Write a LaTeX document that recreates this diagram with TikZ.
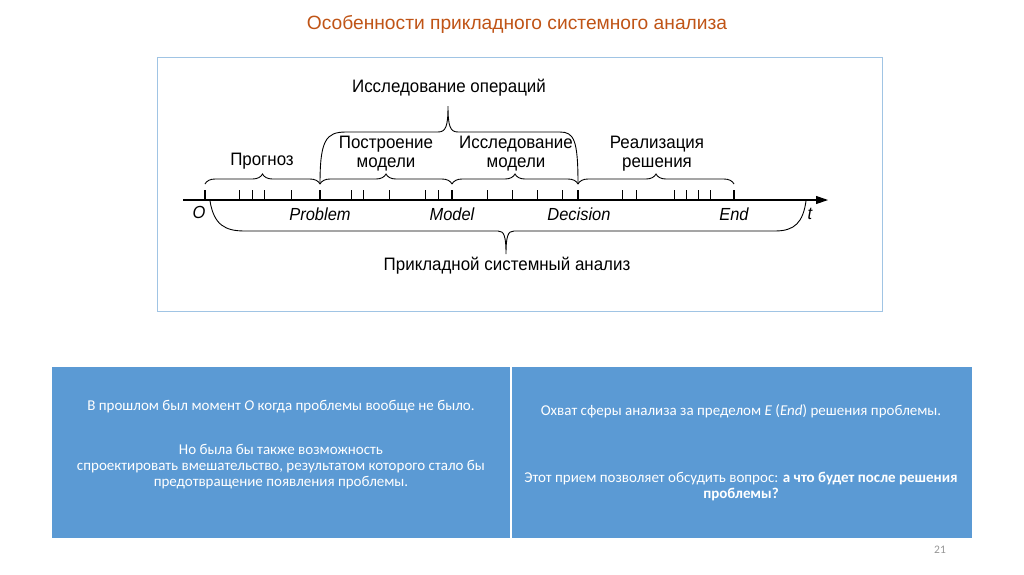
\documentclass[tikz,border=0pt]{standalone}
\usepackage{fontspec}
\usepackage{tikz}
\usetikzlibrary{arrows.meta,positioning,decorations.pathreplacing,calc}
\setmainfont{Liberation Sans}
\newfontfamily\narrowfont[FakeStretch=0.94]{Liberation Sans}
\newfontfamily\slidefont{Carlito}
\definecolor{titlecol}{RGB}{192,84,22}
\definecolor{frame}{RGB}{160,196,228}
\definecolor{cellblue}{RGB}{91,154,212}
\definecolor{pagegray}{RGB}{150,150,150}

\tikzset{
  lbl/.style={font=\narrowfont\fontsize{18}{19}\selectfont, align=center, inner sep=0pt},
  ptlbl/.style={font=\narrowfont\itshape\fontsize{17.5}{19}\selectfont, inner sep=0pt},
  major/.style={line width=2pt},
  minor/.style={line width=0.9pt},
  smallbrace/.style={decorate, decoration={brace, amplitude=10pt}, line width=0.9pt},
  bigbrace/.style={line width=0.9pt},
  celltxt/.style={font=\slidefont\fontsize{15}{16}\selectfont, text=white, align=center, inner sep=0pt}
}

\begin{document}
\begin{tikzpicture}[x=1pt, y=-1pt]
  \useasboundingbox (0,0) rectangle (1024,574);
  \fill[white] (0,0) rectangle (1024,574);

  % title
  \node[font=\fontsize{19.2}{22}\selectfont, text=titlecol] (title) at (517,24) {Особенности прикладного системного анализа};

  % diagram frame
  \draw[frame, line width=1pt] (157,57) rectangle (882,311);

  % time axis
  \coordinate (start) at (183,200);
  \coordinate (tip) at (828,200);
  \draw[line width=1.1pt, -{Triangle[length=12pt,width=8pt]}] (start) -- (tip);

  \coordinate (O) at (205,200);
  \coordinate (P) at (320,200);
  \coordinate (M) at (452,200);
  \coordinate (D) at (578,200);
  \coordinate (E) at (734,200);

  \foreach \p in {O,P,M,D,E}
    \draw[major] (\p) -- ++(0,-10);
  \foreach \x in {239,252,264,291,351,363,389,425,438,487,512,537,562,622,636,674,686,698,710}
    \draw[minor] (\x,200) -- ++(0,-10);

  % tick labels
  \node[ptlbl] (lO) at (199,212) {O};
  \node[ptlbl] (lP) at (320,214) {Problem};
  \node[ptlbl] (lM) at (452,214) {Model};
  \node[ptlbl] (lD) at (579,214) {Decision};
  \node[ptlbl] (lE) at (734,214) {End};
  \node[ptlbl] (lt) at (810,214) {t};

  % small braces over the stages
  \draw[smallbrace] ($(O)+(0,-16)$) -- ($(P)+(0,-16)$);
  \draw[smallbrace] ($(P)+(0,-16)$) -- ($(M)+(0,-16)$);
  \draw[smallbrace] ($(M)+(0,-16)$) -- ($(D)+(0,-16)$);
  \draw[smallbrace] ($(D)+(0,-16)$) -- ($(E)+(0,-16)$);

  \node[lbl] (prog) at (262,161) {Прогноз};
  \node[lbl] (build) at (386,154) {Построение\\модели};
  \node[lbl] (study) at (516,154) {Исследование\\модели};
  \node[lbl] (impl) at (657,154) {Реализация\\решения};

  % operations research brace
  \draw[bigbrace] ($(P)+(0,-16)$) .. controls (320,140) and (326,132) .. (346,132) -- (438,132)
    .. controls (446,132) and (448,126) .. (448,106)
    .. controls (448,126) and (450,132) .. (458,132) -- (560,132)
    .. controls (574,132) and (578,140) .. ($(D)+(0,-16)$);
  \node[lbl] (ops) at (449,88) {Исследование операций};

  % applied systems analysis brace
  \draw[bigbrace] ($(O)+(5,1)$) .. controls (214,225) and (225,231) .. (245,231) -- (498,231)
    .. controls (504,231) and (506,236) .. (506,254)
    .. controls (506,236) and (508,231) .. (514,231) -- (775,231)
    .. controls (795,231) and (803,222) .. (806,201);
  \node[lbl] (asa) at (507,266) {Прикладной системный анализ};

  % table
  \fill[cellblue] (52,367) rectangle (972,538);
  \draw[white, line width=2pt] (511,367) -- (511,538);

  \node[celltxt] (past) at (281,407) {В прошлом был момент \textit{O} когда проблемы вообще не было.};
  \node[celltxt] (could) at (281,467) {Но была бы также возможность\\спроектировать вмешательство, результатом которого стало бы\\предотвращение появления проблемы.};
  \node[celltxt] (scope) at (741,411) {Охват сферы анализа за пределом \textit{E} (\textit{End}) решения проблемы.};
  \node[celltxt] (after) at (741,486) {Этот прием позволяет обсудить вопрос: \textbf{а что будет после решения}\\\textbf{проблемы?}};

  \node[font=\slidefont\fontsize{11.5}{13}\selectfont, text=pagegray] (page) at (940,550) {21};
\end{tikzpicture}
\end{document}
